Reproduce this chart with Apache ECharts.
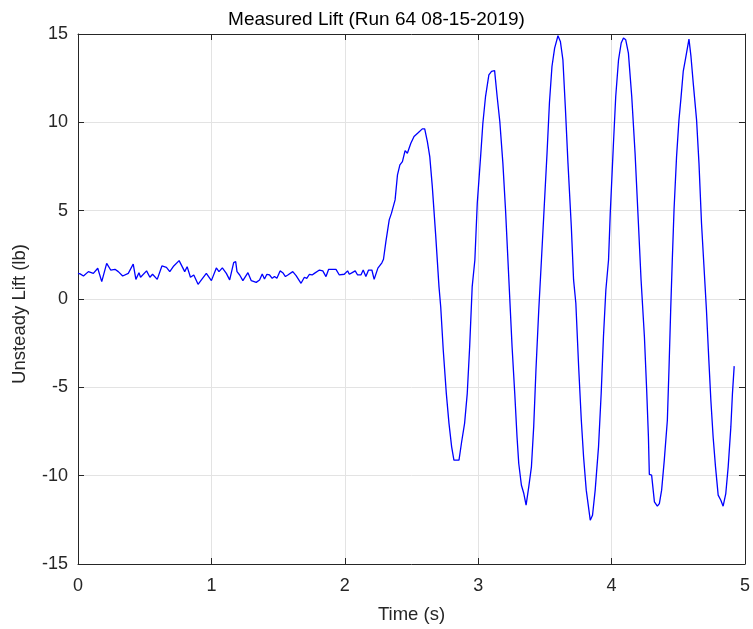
<!DOCTYPE html>
<html>
<head>
<meta charset="utf-8">
<script src="https://cdn.jsdelivr.net/npm/echarts@6/dist/echarts.min.js"></script>
<style>
html,body{margin:0;padding:0;background:#fff;}
#chart{width:753px;height:629px;}
</style>
</head>
<body>
<div id="chart"></div>
<script>
const chartTitle = 'Measured Lift (Run 64 08-15-2019)';
const xAxisTitle = 'Time (s)';
const yAxisTitle = 'Unsteady Lift (lb)';

const timeS = [
0,0.016,0.041,0.078,0.115,0.148,0.178,0.215,0.245,0.277,0.302,0.335,0.377,0.414,0.434,0.457,0.469,0.514,0.539,0.559,
0.594,0.629,0.663,0.688,0.718,0.758,0.800,0.818,0.843,0.868,0.900,0.925,0.962,1.000,1.037,1.057,1.082,1.112,1.137,1.167,
1.182,1.192,1.212,1.236,1.274,1.299,1.336,1.361,1.381,1.398,1.416,1.436,1.456,1.473,1.491,1.515,1.535,1.555,1.573,1.585,
1.610,1.635,1.672,1.697,1.715,1.735,1.755,1.772,1.785,1.810,1.835,1.859,1.879,1.934,1.959,1.996,2.021,2.034,2.059,2.078,
2.096,2.121,2.138,2.158,2.178,2.203,2.220,2.248,2.278,2.290,
2.308,2.333,2.350,2.377,2.395,2.413,2.432,2.452,2.469,2.495,2.519,2.552,2.581,2.599,2.619,2.637,2.656,2.682,2.706,2.719,
2.738,2.761,2.781,2.801,2.818,2.856,2.876,2.898,2.918,2.936,2.955,2.975,2.993,3.018,3.035,3.055,3.080,3.100,3.123,3.142,
3.162,3.185,3.205,3.254,3.274,3.291,3.304,3.324,3.342,3.359,3.379,3.399,3.416,3.433,3.454,3.474,3.491,3.516,3.534,3.553,
3.573,3.598,3.616,3.635,3.653,3.673,3.698,3.715,3.732,3.753,3.773,3.790,3.810,3.840,3.857,3.877,3.902,3.922,3.939,3.957,
3.977,3.990,4.014,4.031,4.052,4.072,4.089,4.106,4.126,4.151,4.176,4.201,4.221,4.246,4.263,4.276,4.283,4.300,4.321,4.343,
4.358,4.375,4.395,4.418,4.430,4.443,4.455,4.468,4.487,4.505,4.520,4.537,4.555,4.580,4.595,4.612,4.637,4.655,4.674,4.711,
4.729,4.744,4.761,4.779,4.799,4.819,4.836,4.856,4.874,4.894,4.906,4.919
];

const liftLb = [
1.45,1.42,1.30,1.55,1.45,1.74,0.98,2.02,1.64,1.68,1.55,1.30,1.45,1.98,1.11,1.49,1.23,1.59,1.23,1.40,
1.11,1.87,1.79,1.55,1.87,2.17,1.55,1.83,1.23,1.36,0.83,1.08,1.45,1.04,1.76,1.55,1.76,1.45,1.08,2.06,
2.12,1.55,1.36,1.04,1.49,1.04,0.94,1.08,1.42,1.13,1.40,1.36,1.17,1.27,1.17,1.59,1.49,1.27,1.36,1.27,
1.55,1.32,0.89,1.23,1.17,1.40,1.36,1.45,1.36,1.64,1.59,1.27,1.68,1.68,1.36,1.40,1.59,1.40,1.51,1.59,
1.36,1.36,1.64,1.27,1.64,1.64,1.11,1.75,2.05,2.25,
3.25,4.48,4.86,5.61,7.03,7.59,7.78,8.40,8.25,8.82,9.20,9.42,9.63,9.63,8.91,8.06,6.36,3.53,0.70,-0.44,
-2.89,-5.34,-7.04,-8.37,-9.12,-9.12,-8.08,-7.04,-5.34,-2.70,0.70,2.21,5.42,8.06,9.95,11.46,12.69,12.88,12.93,11.46,
10.05,7.69,5.04,-2.70,-5.34,-7.80,-9.31,-10.54,-11.01,-11.67,-10.63,-9.50,-7.24,-4.02,-0.62,2.21,4.66,8.25,11.09,13.16,
14.20,14.90,14.58,13.54,10.90,7.69,4.10,1.08,-0.24,-3.84,-6.86,-8.94,-10.82,-12.52,-12.24,-10.82,-8.37,-5.34,-2.14,0.51,
2.21,4.86,8.82,11.46,13.54,14.49,14.77,14.67,13.92,11.46,8.25,4.29,1.08,-2.14,-5.16,-7.80,-9.93,-9.97,-11.48,-11.73,
-11.58,-10.82,-9.12,-6.86,-4.02,-0.62,2.21,5.04,8.06,10.14,11.37,12.88,13.64,14.71,13.73,12.22,10.14,7.69,4.29,-0.62,
-3.46,-5.72,-7.80,-9.50,-11.10,-11.39,-11.73,-11.01,-9.50,-7.24,-5.34,-3.80
];

const xTicks = [0, 1, 2, 3, 4, 5];
const yTicks = [-15, -10, -5, 0, 5, 10, 15];

const FONT = '"Liberation Sans", Arial, Helvetica, sans-serif';
const AX = '#262626';
const GRIDC = '#e3e3e3';

const seriesData = timeS.map((t, i) => [t, liftLb[i]]);

const chart = echarts.init(document.getElementById('chart'), null, {renderer: 'canvas'});

const boxAxis = (pos) => ({
  type: 'value', position: pos,
  axisLine: {show: true, onZero: false, lineStyle: {color: AX, width: 1}},
  axisTick: {show: true, inside: true, length: 6, lineStyle: {color: AX}},
  axisLabel: {show: false},
  splitLine: {show: false}
});

chart.setOption({
  animation: false,
  backgroundColor: '#ffffff',
  title: {
    text: chartTitle, left: 'center', top: 5,
    textStyle: {fontFamily: FONT, fontSize: 19, fontWeight: 'normal', color: '#000'}
  },
  graphic: [{
    type: 'text',
    x: 20, y: 314,
    rotation: Math.PI / 2,
    style: {
      text: yAxisTitle, fontFamily: FONT, fontSize: 18.5, fill: AX,
      align: 'center', verticalAlign: 'middle'
    }
  }],
  grid: {left: 78, right: 7, top: 34, bottom: 65, containLabel: false},
  xAxis: [
    {
      type: 'value', position: 'bottom',
      min: xTicks[0], max: xTicks[xTicks.length - 1], interval: 1,
      name: xAxisTitle, nameLocation: 'middle', nameGap: 41,
      nameTextStyle: {fontFamily: FONT, fontSize: 18.5, color: AX},
      axisLine: {show: true, onZero: false, lineStyle: {color: AX, width: 1}},
      axisTick: {show: true, inside: true, length: 6, lineStyle: {color: AX}},
      axisLabel: {fontFamily: FONT, fontSize: 18, color: AX, margin: 13},
      splitLine: {show: true, lineStyle: {color: GRIDC, width: 1}}
    },
    Object.assign(boxAxis('top'), {min: xTicks[0], max: xTicks[xTicks.length - 1], interval: 1})
  ],
  yAxis: [
    {
      type: 'value', position: 'left',
      min: yTicks[0], max: yTicks[yTicks.length - 1], interval: 5,
      axisLine: {show: true, onZero: false, lineStyle: {color: AX, width: 1}},
      axisTick: {show: true, inside: true, length: 6, lineStyle: {color: AX}},
      axisLabel: {fontFamily: FONT, fontSize: 18, color: AX, margin: 10},
      splitLine: {show: true, lineStyle: {color: GRIDC, width: 1}}
    },
    Object.assign(boxAxis('right'), {min: yTicks[0], max: yTicks[yTicks.length - 1], interval: 5})
  ],
  series: [{
    type: 'line',
    xAxisIndex: 0, yAxisIndex: 0,
    data: seriesData,
    showSymbol: false,
    symbol: 'none',
    lineStyle: {color: '#0000ff', width: 1.3},
    clip: true
  }]
});
</script>
</body>
</html>
